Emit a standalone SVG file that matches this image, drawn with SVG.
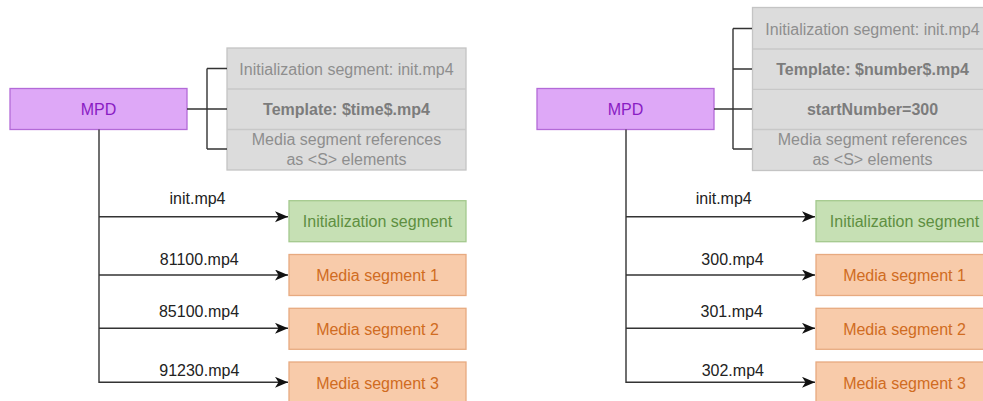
<svg xmlns="http://www.w3.org/2000/svg" width="983" height="401" viewBox="0 0 983 401">
<style>
text{font-family:"Liberation Sans",Arial,sans-serif;font-size:16px;text-anchor:middle}
.mpd rect{fill:#DEA8F7;stroke:#B36AD8;stroke-width:1.3}
.mpd text{fill:#8A1CC4}
.info rect{fill:#DCDCDC;stroke:#C4C4C4;stroke-width:1.3}
.info line{stroke:#C8C8C8;stroke-width:1.3}
.info text{fill:#8E8E8E}
.info text.b{font-weight:bold;fill:#7C7C7C}
.init rect{fill:#C6E0B4;stroke:#A4C98E;stroke-width:1.3}
.init text{fill:#5E8F41}
.seg rect{fill:#F8CBAA;stroke:#E7AA80;stroke-width:1.3}
.seg text{fill:#D06C22}
.conn path{fill:none;stroke:#333;stroke-width:1.4}
.lbl{fill:#222}
</style>
<defs>
<marker id="arr" markerUnits="userSpaceOnUse" markerWidth="14" markerHeight="12" refX="13" refY="5.5" orient="auto">
<path d="M0,0 L13,5.5 L0,11 L3.5,5.5 Z" fill="#111"/>
</marker>
</defs>

<!-- LEFT DIAGRAM -->
<g id="mpd-left" class="mpd">
<rect x="10" y="88.5" width="177" height="41"/>
<text x="98.5" y="114.5">MPD</text>
</g>
<g id="info-left" class="info">
<rect x="227" y="48" width="239" height="122"/>
<line x1="227" y1="89" x2="466" y2="89"/>
<line x1="227" y1="129.5" x2="466" y2="129.5"/>
<text x="346.5" y="74.5">Initialization segment: init.mp4</text>
<text class="b" x="346.5" y="115">Template: $time$.mp4</text>
<text x="346.5" y="145">Media segment references</text>
<text x="346.5" y="164.5">as &lt;S&gt; elements</text>
</g>
<g id="init-left" class="init">
<rect x="289" y="200.7" width="177" height="41"/>
<text x="377.5" y="227">Initialization segment</text>
</g>
<g id="seg1-left" class="seg">
<rect x="289" y="254.5" width="177" height="41"/>
<text x="377.5" y="281">Media segment 1</text>
</g>
<g id="seg2-left" class="seg">
<rect x="289" y="308.3" width="177" height="41"/>
<text x="377.5" y="335">Media segment 2</text>
</g>
<g id="seg3-left" class="seg">
<rect x="289" y="362" width="177" height="41"/>
<text x="377.5" y="388.5">Media segment 3</text>
</g>

<!-- RIGHT DIAGRAM -->
<g id="mpd-right" class="mpd">
<rect x="537" y="88.5" width="177" height="41"/>
<text x="625.5" y="114.5">MPD</text>
</g>
<g id="info-right" class="info">
<rect x="752.5" y="7.5" width="240" height="163"/>
<line x1="752.5" y1="49" x2="992" y2="49"/>
<line x1="752.5" y1="89.3" x2="992" y2="89.3"/>
<line x1="752.5" y1="129.5" x2="992" y2="129.5"/>
<text x="872.5" y="34.5">Initialization segment: init.mp4</text>
<text class="b" x="872.5" y="75">Template: $number$.mp4</text>
<text class="b" x="872.5" y="115">startNumber=300</text>
<text x="872.5" y="145">Media segment references</text>
<text x="872.5" y="164.5">as &lt;S&gt; elements</text>
</g>
<g id="init-right" class="init">
<rect x="816" y="200.7" width="177" height="41"/>
<text x="904.5" y="227">Initialization segment</text>
</g>
<g id="seg1-right" class="seg">
<rect x="816" y="254.5" width="177" height="41"/>
<text x="904.5" y="281">Media segment 1</text>
</g>
<g id="seg2-right" class="seg">
<rect x="816" y="308.3" width="177" height="41"/>
<text x="904.5" y="335">Media segment 2</text>
</g>
<g id="seg3-right" class="seg">
<rect x="816" y="362" width="177" height="41"/>
<text x="904.5" y="388.5">Media segment 3</text>
</g>

<!-- CONNECTORS -->
<g id="connectors" class="conn">
<path d="M187,109 H207 M207,68.5 V149 M207,68.5 H227 M207,109 H227 M207,149 H227"/>
<path d="M99,129.5 V382.3 H288" marker-end="url(#arr)"/>
<path d="M99,216.7 H288" marker-end="url(#arr)"/>
<path d="M99,275 H288" marker-end="url(#arr)"/>
<path d="M99,328.3 H288" marker-end="url(#arr)"/>
<path d="M714,109 H733 M733,28.5 V149 M733,28.5 H752 M733,69 H752 M733,109 H752 M733,149 H752"/>
<path d="M626,129.5 V382.3 H815" marker-end="url(#arr)"/>
<path d="M626,216.7 H815" marker-end="url(#arr)"/>
<path d="M626,275 H815" marker-end="url(#arr)"/>
<path d="M626,328.3 H815" marker-end="url(#arr)"/>
<text class="lbl" x="197.5" y="204">init.mp4</text>
<text class="lbl" x="199.3" y="265">81100.mp4</text>
<text class="lbl" x="199" y="317">85100.mp4</text>
<text class="lbl" x="199.3" y="375.5">91230.mp4</text>
<text class="lbl" x="723.7" y="204">init.mp4</text>
<text class="lbl" x="732.5" y="265">300.mp4</text>
<text class="lbl" x="731.7" y="317">301.mp4</text>
<text class="lbl" x="732.8" y="375.5">302.mp4</text>
</g>
</svg>
